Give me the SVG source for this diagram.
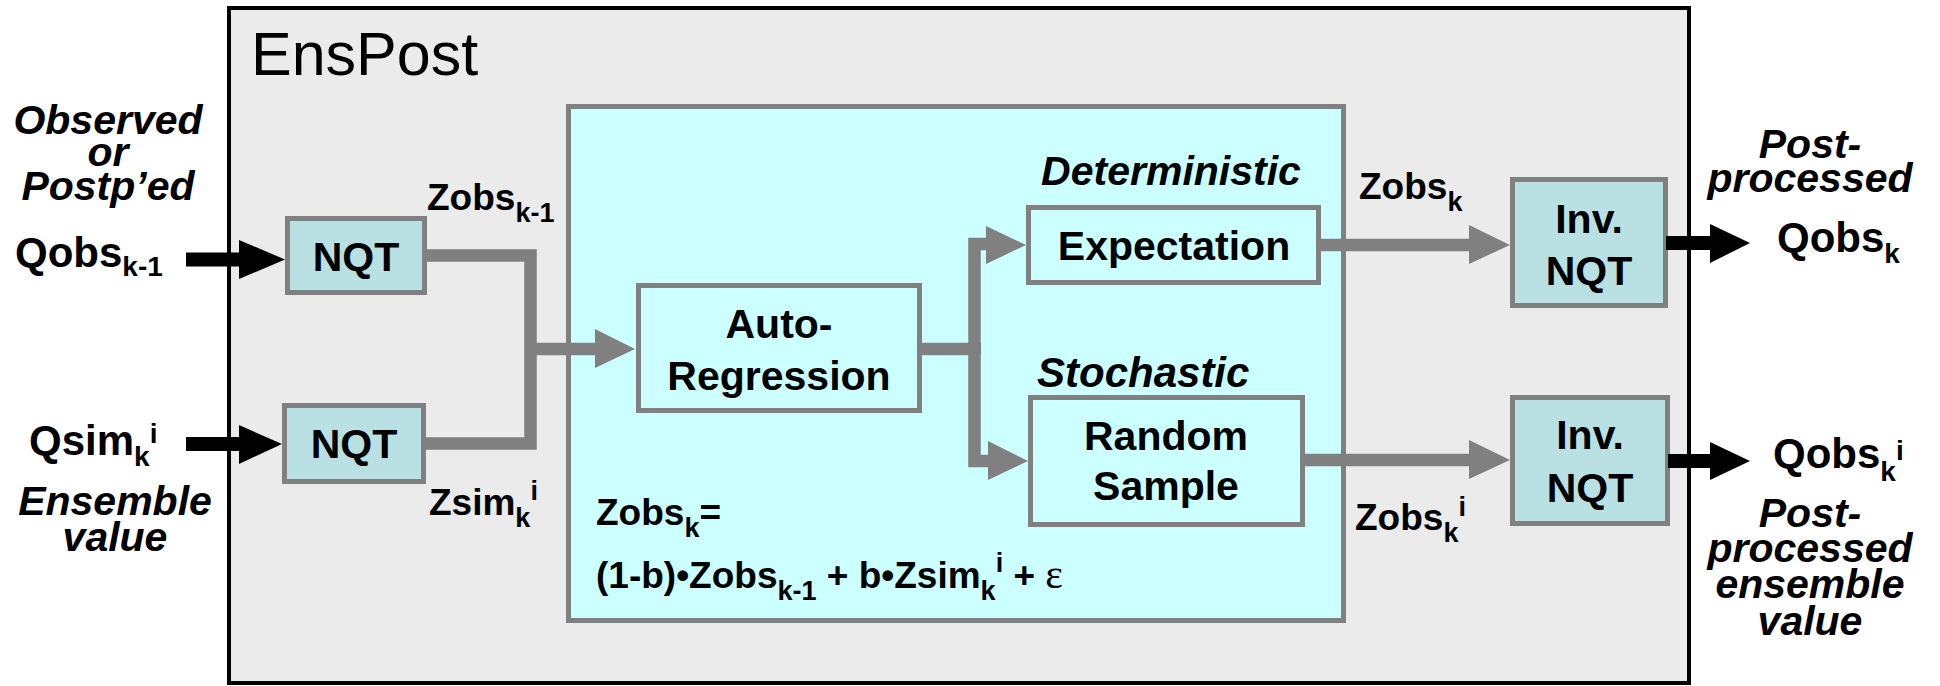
<svg xmlns="http://www.w3.org/2000/svg" width="1940" height="686" viewBox="0 0 1940 686">
<style>
text{font-family:"Liberation Sans",Arial,sans-serif;fill:#000}
.b{font-weight:bold}
.bi{font-weight:bold;font-style:italic}
.box{font-weight:bold;font-size:41px;text-anchor:middle}
.lbl{font-weight:bold;font-style:italic;font-size:41px;text-anchor:middle}
.z{font-weight:bold;font-size:37px}
.nqt{fill:#b9e0e3;stroke:#808080;stroke-width:5}
.cy{fill:#ccffff;stroke:#808080;stroke-width:5}
.gl{fill:none;stroke:#808080;stroke-width:12.5}
.gh{fill:#808080}
.bl{fill:none;stroke:#000;stroke-width:14}
.bh{fill:#000}
</style>
<rect width="1940" height="686" fill="#ffffff"/>
<g id="enspost">
<rect x="229" y="8" width="1460" height="675" fill="#ebebeb" stroke="#000" stroke-width="4"/>
<text x="251" y="75" font-size="61">EnsPost</text>
</g>
<g id="inner">
<rect class="cy" x="568.5" y="106.5" width="775" height="514"/>
</g>
<g id="left-labels">
<text class="lbl" x="108" y="134">Observed</text>
<text class="lbl" x="108" y="166">or</text>
<text class="lbl" x="108" y="200">Postp’ed</text>
<text class="b" x="15" y="267" font-size="42">Qobs<tspan font-size="28" y="276">k-1</tspan></text>
<text class="b" x="29" y="455" font-size="42">Qsim<tspan font-size="28" y="466">k</tspan><tspan font-size="28" y="443">i</tspan></text>
<text class="lbl" x="115" y="515">Ensemble</text>
<text class="lbl" x="115" y="551">value</text>
</g>
<g id="z-labels">
<text class="z" x="427" y="210">Zobs<tspan font-size="27" y="222">k-1</tspan></text>
<text class="z" x="429" y="515">Zsim<tspan font-size="27" y="527">k</tspan><tspan font-size="27" y="500">i</tspan></text>
<text class="z" x="1359" y="199">Zobs<tspan font-size="27" y="211">k</tspan></text>
<text class="z" x="1355" y="530">Zobs<tspan font-size="27" y="542">k</tspan><tspan font-size="27" y="516">i</tspan></text>
</g>
<g id="nqt1">
<rect class="nqt" x="287.5" y="218.5" width="137" height="74"/>
<text class="box" x="356" y="271">NQT</text>
</g>
<g id="nqt2">
<rect class="nqt" x="284.5" y="405.5" width="139" height="76"/>
<text class="box" x="354" y="458">NQT</text>
</g>
<g id="autoregression">
<rect class="cy" x="638.5" y="285.5" width="281" height="125"/>
<text class="box" x="779" y="338">Auto-</text>
<text class="box" x="779" y="390">Regression</text>
</g>
<g id="expectation">
<text class="lbl" x="1171" y="185" font-size="42">Deterministic</text>
<rect class="cy" x="1028.5" y="207.5" width="290" height="75"/>
<text class="box" x="1174" y="260">Expectation</text>
</g>
<g id="randomsample">
<text class="bi" x="1037" y="387" font-size="42">Stochastic</text>
<rect class="cy" x="1030.5" y="397.5" width="272" height="127"/>
<text class="box" x="1166" y="450">Random</text>
<text class="box" x="1166" y="500">Sample</text>
</g>
<g id="formula">
<text class="z" x="596" y="525">Zobs<tspan font-size="27" y="537">k</tspan><tspan y="525">=</tspan></text>
<text class="z" x="596" y="588">(1-b)•Zobs<tspan font-size="27" y="600">k-1</tspan><tspan y="588"> + b•Zsim</tspan><tspan font-size="27" y="600">k</tspan><tspan font-size="27" y="572">i</tspan><tspan y="588"> + </tspan><tspan font-family="Liberation Serif" font-weight="normal" font-size="42">ε</tspan></text>
</g>
<g id="invnqt1">
<rect class="nqt" x="1512.5" y="179.5" width="153" height="126"/>
<text class="box" x="1589" y="233">Inv.</text>
<text class="box" x="1589" y="285">NQT</text>
</g>
<g id="invnqt2">
<rect class="nqt" x="1512.5" y="397.5" width="155" height="126"/>
<text class="box" x="1590" y="449">Inv.</text>
<text class="box" x="1590" y="502">NQT</text>
</g>
<g id="right-labels">
<text class="lbl" x="1810" y="158" font-size="42">Post-</text>
<text class="lbl" x="1810" y="192" font-size="42">processed</text>
<text class="b" x="1777" y="252" font-size="42">Qobs<tspan font-size="28" y="263">k</tspan></text>
<text class="b" x="1773" y="468" font-size="42">Qobs<tspan font-size="28" y="481">k</tspan><tspan font-size="28" y="460">i</tspan></text>
<text class="lbl" x="1810" y="527" font-size="42">Post-</text>
<text class="lbl" x="1810" y="562" font-size="42">processed</text>
<text class="lbl" x="1810" y="598" font-size="42">ensemble</text>
<text class="lbl" x="1810" y="635" font-size="42">value</text>
</g>
<g id="connectors">
<polyline class="gl" points="425,255.5 530.5,255.5 530.5,443.5 423,443.5"/>
<line class="gl" x1="530" y1="349" x2="597" y2="349"/>
<polygon class="gh" points="595,329 635,349 595,368"/>
<line class="gl" x1="920" y1="349" x2="981" y2="349"/>
<polyline class="gl" points="988,244 974.5,244 974.5,461 990,461"/>
<polygon class="gh" points="986,226 1026,245 986,264"/>
<polygon class="gh" points="988,441 1028,461 988,480"/>
<line class="gl" x1="1318" y1="245" x2="1471" y2="245"/>
<polygon class="gh" points="1469,225 1510,245 1469,264"/>
<line class="gl" x1="1302" y1="460" x2="1471" y2="460"/>
<polygon class="gh" points="1469,440 1510,460 1469,479"/>
<line class="bl" x1="186" y1="259.5" x2="241" y2="259.5"/>
<polygon class="bh" points="239,240 285,259.5 239,279"/>
<line class="bl" x1="186" y1="444" x2="241" y2="444"/>
<polygon class="bh" points="239,425 282,444 239,464"/>
<line class="bl" x1="1666" y1="243" x2="1712" y2="243"/>
<polygon class="bh" points="1710,224 1750,243 1710,263"/>
<line class="bl" x1="1668" y1="461" x2="1712" y2="461"/>
<polygon class="bh" points="1710,442 1750,461 1710,480"/>
</g>
</svg>
